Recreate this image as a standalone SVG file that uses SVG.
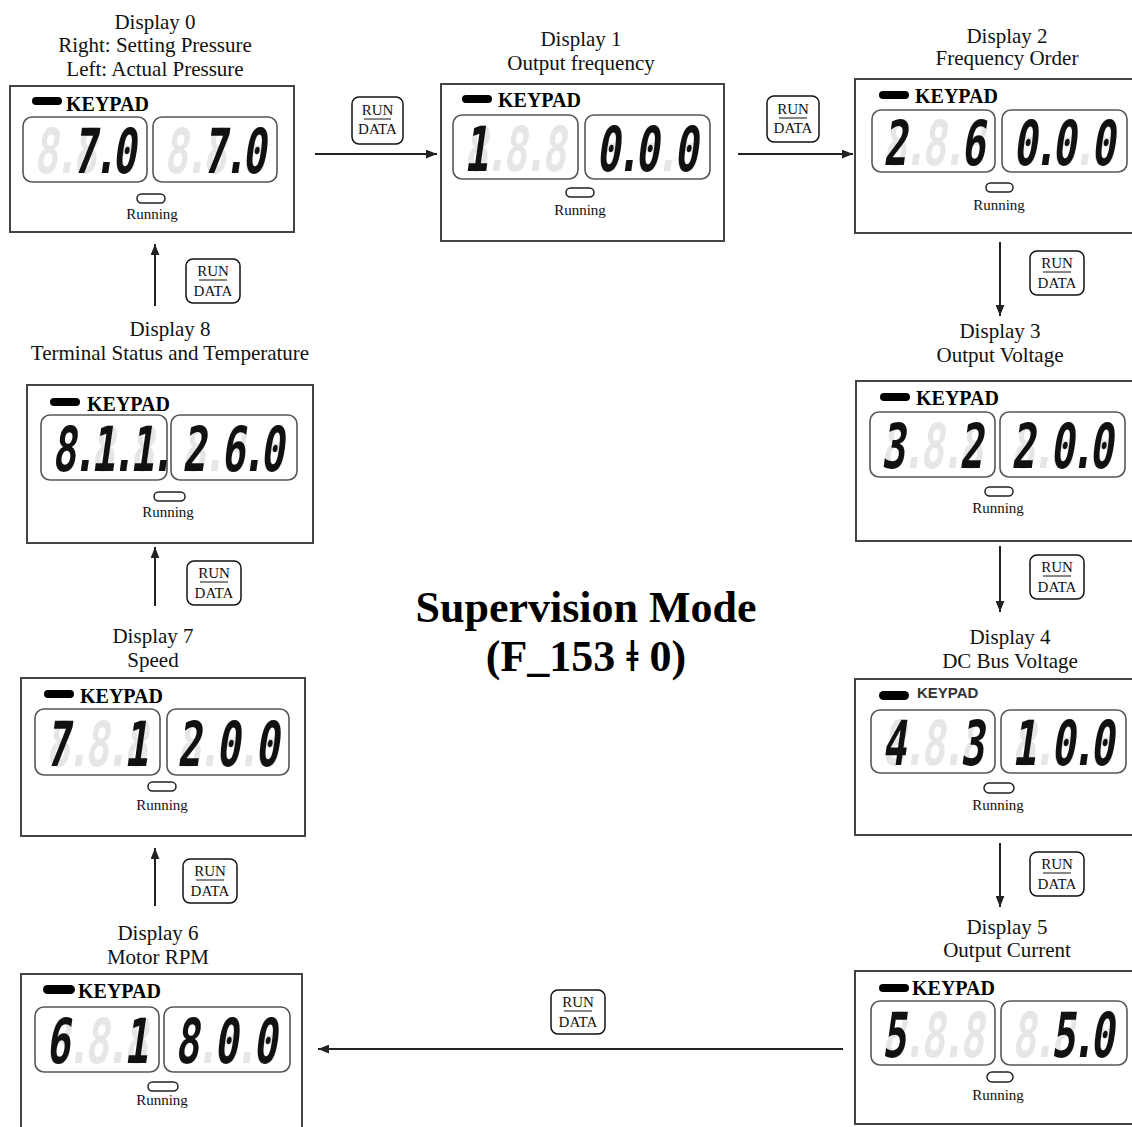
<svg xmlns="http://www.w3.org/2000/svg" width="1132" height="1127" viewBox="0 0 1132 1127">
<defs>
<style>
.lab{font-family:"Liberation Serif",serif;font-size:21px;text-anchor:middle;fill:#111}
.kp{font-family:"Liberation Serif",serif;font-weight:bold;font-size:20px;fill:#000}
.kps{font-family:"Liberation Sans",sans-serif;font-weight:bold;font-size:15px;fill:#333}
.run{font-family:"Liberation Serif",serif;font-size:15px;text-anchor:middle;fill:#111}
.box{fill:#fff;stroke:#444;stroke-width:2}
.win{fill:none;stroke:#555;stroke-width:1.6}
.pill{fill:#000}
.led{fill:#fff;stroke:#222;stroke-width:1.5}
.seg{font-family:"DejaVu Sans Mono",monospace;font-size:40px;font-weight:bold}
.gh{fill:#e6e6e6}
.lt{fill:#111}
.btn{fill:#fff;stroke:#111;stroke-width:1.5}
.bt{font-family:"Liberation Serif",serif;font-size:15px;text-anchor:middle;fill:#111}
.ul{stroke:#111;stroke-width:1}
.con{stroke:#222;stroke-width:2;fill:none;marker-end:url(#ah)}
.title{font-family:"Liberation Serif",serif;font-weight:bold;font-size:44px;text-anchor:middle;fill:#000}
</style>
<marker id="ah" viewBox="0 0 10 8" refX="10" refY="4" markerWidth="11" markerHeight="9" markerUnits="userSpaceOnUse" orient="auto">
<path d="M0,0 L10,4 L0,8 z" fill="#222"/>
</marker>
</defs>
<rect width="1132" height="1127" fill="#fff"/>

<g id="connectors">
<line class="con" x1="315" y1="154" x2="437" y2="154"/>
<line class="con" x1="738" y1="154" x2="853" y2="154"/>
<line class="con" x1="1000" y1="242" x2="1000" y2="316"/>
<line class="con" x1="1000" y1="546" x2="1000" y2="612"/>
<line class="con" x1="1000" y1="843" x2="1000" y2="907"/>
<line class="con" x1="843" y1="1049" x2="318" y2="1049"/>
<line class="con" x1="155" y1="906" x2="155" y2="848"/>
<line class="con" x1="155" y1="606" x2="155" y2="547"/>
<line class="con" x1="155" y1="306" x2="155" y2="244"/>
<g id="buttons">
<g><rect class="btn" x="352" y="97" width="51" height="47" rx="7"/><text class="bt" x="377.5" y="115">RUN</text><line class="ul" x1="364" y1="119" x2="391" y2="119"/><text class="bt" x="377.5" y="134">DATA</text></g>
<g><rect class="btn" x="767" y="96" width="52" height="46" rx="7"/><text class="bt" x="793" y="114">RUN</text><line class="ul" x1="779" y1="118" x2="807" y2="118"/><text class="bt" x="793" y="133">DATA</text></g>
<g><rect class="btn" x="186" y="259" width="54" height="44" rx="7"/><text class="bt" x="213" y="276">RUN</text><line class="ul" x1="199" y1="280" x2="227" y2="280"/><text class="bt" x="213" y="296">DATA</text></g>
<g><rect class="btn" x="1030" y="251" width="54" height="44" rx="7"/><text class="bt" x="1057" y="268">RUN</text><line class="ul" x1="1043" y1="272" x2="1071" y2="272"/><text class="bt" x="1057" y="288">DATA</text></g>
<g><rect class="btn" x="187" y="561" width="54" height="44" rx="7"/><text class="bt" x="214" y="578">RUN</text><line class="ul" x1="200" y1="582" x2="228" y2="582"/><text class="bt" x="214" y="598">DATA</text></g>
<g><rect class="btn" x="1030" y="555" width="54" height="44" rx="7"/><text class="bt" x="1057" y="572">RUN</text><line class="ul" x1="1043" y1="576" x2="1071" y2="576"/><text class="bt" x="1057" y="592">DATA</text></g>
<g><rect class="btn" x="183" y="859" width="54" height="44" rx="7"/><text class="bt" x="210" y="876">RUN</text><line class="ul" x1="196" y1="880" x2="224" y2="880"/><text class="bt" x="210" y="896">DATA</text></g>
<g><rect class="btn" x="1030" y="852" width="54" height="44" rx="7"/><text class="bt" x="1057" y="869">RUN</text><line class="ul" x1="1043" y1="873" x2="1071" y2="873"/><text class="bt" x="1057" y="889">DATA</text></g>
<g><rect class="btn" x="551" y="990" width="54" height="44" rx="7"/><text class="bt" x="578" y="1007">RUN</text><line class="ul" x1="564" y1="1011" x2="592" y2="1011"/><text class="bt" x="578" y="1027">DATA</text></g>
</g>
</g>

<g id="display0">
<text class="lab" x="155" y="29">Display 0</text>
<text class="lab" x="155" y="52">Right: Setting Pressure</text>
<text class="lab" x="155" y="76">Left: Actual Pressure</text>
<rect class="box" x="10" y="86" width="284" height="146"/>
<rect class="pill" x="32" y="97" width="30" height="8" rx="4"/>
<text class="kp" x="66" y="111">KEYPAD</text>
<rect class="win" x="23" y="117" width="124" height="65" rx="9"/>
<text class="seg gh" transform="translate(34,173) skewX(-8) scale(1,1.55)"><tspan x="0">8</tspan><tspan x="20">.</tspan><tspan x="39">8</tspan><tspan x="59">.</tspan><tspan x="78">8</tspan></text>
<text class="seg lt" transform="translate(34,173) skewX(-8) scale(1,1.55)"><tspan x="39">7</tspan><tspan x="59">.</tspan><tspan x="78">0</tspan></text>
<rect class="win" x="153" y="117" width="124" height="65" rx="9"/>
<text class="seg gh" transform="translate(164,173) skewX(-8) scale(1,1.55)"><tspan x="0">8</tspan><tspan x="20">.</tspan><tspan x="39">8</tspan><tspan x="59">.</tspan><tspan x="78">8</tspan></text>
<text class="seg lt" transform="translate(164,173) skewX(-8) scale(1,1.55)"><tspan x="39">7</tspan><tspan x="59">.</tspan><tspan x="78">0</tspan></text>
<rect class="led" x="137" y="194" width="28" height="9" rx="4.5"/>
<text class="run" x="152" y="219">Running</text>
</g>

<g id="display1">
<text class="lab" x="581" y="46">Display 1</text>
<text class="lab" x="581" y="70">Output frequency</text>
<rect class="box" x="441" y="84" width="283" height="157"/>
<rect class="pill" x="462" y="95" width="30" height="8" rx="4"/>
<text class="kp" x="498" y="107">KEYPAD</text>
<rect class="win" x="453" y="115" width="125" height="64" rx="9"/>
<text class="seg gh" transform="translate(464,171) skewX(-8) scale(1,1.55)"><tspan x="0">8</tspan><tspan x="20">.</tspan><tspan x="39">8</tspan><tspan x="59">.</tspan><tspan x="78">8</tspan></text>
<text class="seg lt" transform="translate(464,171) skewX(-8) scale(1,1.55)"><tspan x="0">1</tspan></text>
<rect class="win" x="585" y="115" width="125" height="64" rx="9"/>
<text class="seg gh" transform="translate(596,171) skewX(-8) scale(1,1.55)"><tspan x="0">8</tspan><tspan x="20">.</tspan><tspan x="39">8</tspan><tspan x="59">.</tspan><tspan x="78">8</tspan></text>
<text class="seg lt" transform="translate(596,171) skewX(-8) scale(1,1.55)"><tspan x="0">0</tspan><tspan x="20">.</tspan><tspan x="39">0</tspan><tspan x="78">0</tspan></text>
<rect class="led" x="566" y="188" width="28" height="9" rx="4.5"/>
<text class="run" x="580" y="215">Running</text>
</g>

<g id="display2">
<text class="lab" x="1007" y="43">Display 2</text>
<text class="lab" x="1007" y="65">Frequency Order</text>
<rect class="box" x="855" y="79" width="286" height="154"/>
<rect class="pill" x="879" y="91" width="30" height="8" rx="4"/>
<text class="kp" x="915" y="103">KEYPAD</text>
<rect class="win" x="872" y="110" width="123" height="62" rx="9"/>
<text class="seg gh" transform="translate(883,165) skewX(-8) scale(1,1.55)"><tspan x="0">8</tspan><tspan x="20">.</tspan><tspan x="39">8</tspan><tspan x="59">.</tspan><tspan x="78">8</tspan></text>
<text class="seg lt" transform="translate(883,165) skewX(-8) scale(1,1.55)"><tspan x="0">2</tspan><tspan x="78">6</tspan></text>
<rect class="win" x="1002" y="110" width="125" height="62" rx="9"/>
<text class="seg gh" transform="translate(1013,165) skewX(-8) scale(1,1.55)"><tspan x="0">8</tspan><tspan x="20">.</tspan><tspan x="39">8</tspan><tspan x="59">.</tspan><tspan x="78">8</tspan></text>
<text class="seg lt" transform="translate(1013,165) skewX(-8) scale(1,1.55)"><tspan x="0">0</tspan><tspan x="20">.</tspan><tspan x="39">0</tspan><tspan x="78">0</tspan></text>
<rect class="led" x="986" y="183" width="27" height="9" rx="4.5"/>
<text class="run" x="999" y="210">Running</text>
</g>

<g id="display3">
<text class="lab" x="1000" y="338">Display 3</text>
<text class="lab" x="1000" y="362">Output Voltage</text>
<rect class="box" x="856" y="381" width="285" height="160"/>
<rect class="pill" x="880" y="393" width="30" height="8" rx="4"/>
<text class="kp" x="916" y="405">KEYPAD</text>
<rect class="win" x="870" y="412" width="125" height="65" rx="9"/>
<text class="seg gh" transform="translate(881,468) skewX(-8) scale(1,1.55)"><tspan x="0">8</tspan><tspan x="20">.</tspan><tspan x="39">8</tspan><tspan x="59">.</tspan><tspan x="78">8</tspan></text>
<text class="seg lt" transform="translate(881,468) skewX(-8) scale(1,1.55)"><tspan x="0">3</tspan><tspan x="78">2</tspan></text>
<rect class="win" x="1000" y="412" width="125" height="65" rx="9"/>
<text class="seg gh" transform="translate(1011,468) skewX(-8) scale(1,1.55)"><tspan x="0">8</tspan><tspan x="20">.</tspan><tspan x="39">8</tspan><tspan x="59">.</tspan><tspan x="78">8</tspan></text>
<text class="seg lt" transform="translate(1011,468) skewX(-8) scale(1,1.55)"><tspan x="0">2</tspan><tspan x="39">0</tspan><tspan x="59">.</tspan><tspan x="78">0</tspan></text>
<rect class="led" x="985" y="487" width="28" height="9" rx="4.5"/>
<text class="run" x="998" y="513">Running</text>
</g>

<g id="display4">
<text class="lab" x="1010" y="644">Display 4</text>
<text class="lab" x="1010" y="668">DC Bus Voltage</text>
<rect class="box" x="855" y="679" width="286" height="156"/>
<rect class="pill" x="879" y="691" width="30" height="9" rx="4.5"/>
<text class="kps" x="917" y="698">KEYPAD</text>
<rect class="win" x="871" y="710" width="124" height="63" rx="9"/>
<text class="seg gh" transform="translate(882,765) skewX(-8) scale(1,1.55)"><tspan x="0">8</tspan><tspan x="20">.</tspan><tspan x="39">8</tspan><tspan x="59">.</tspan><tspan x="78">8</tspan></text>
<text class="seg lt" transform="translate(882,765) skewX(-8) scale(1,1.55)"><tspan x="0">4</tspan><tspan x="78">3</tspan></text>
<rect class="win" x="1001" y="710" width="125" height="63" rx="9"/>
<text class="seg gh" transform="translate(1012,765) skewX(-8) scale(1,1.55)"><tspan x="0">8</tspan><tspan x="20">.</tspan><tspan x="39">8</tspan><tspan x="59">.</tspan><tspan x="78">8</tspan></text>
<text class="seg lt" transform="translate(1012,765) skewX(-8) scale(1,1.55)"><tspan x="0">1</tspan><tspan x="39">0</tspan><tspan x="59">.</tspan><tspan x="78">0</tspan></text>
<rect class="led" x="984" y="783" width="30" height="10" rx="5"/>
<text class="run" x="998" y="810">Running</text>
</g>

<g id="display5">
<text class="lab" x="1007" y="934">Display 5</text>
<text class="lab" x="1007" y="957">Output Current</text>
<rect class="box" x="855" y="971" width="286" height="153"/>
<rect class="pill" x="879" y="984" width="30" height="8" rx="4"/>
<text class="kp" x="912" y="995">KEYPAD</text>
<rect class="win" x="871" y="1001" width="124" height="64" rx="9"/>
<text class="seg gh" transform="translate(882,1057) skewX(-8) scale(1,1.55)"><tspan x="0">8</tspan><tspan x="20">.</tspan><tspan x="39">8</tspan><tspan x="59">.</tspan><tspan x="78">8</tspan></text>
<text class="seg lt" transform="translate(882,1057) skewX(-8) scale(1,1.55)"><tspan x="0">5</tspan></text>
<rect class="win" x="1001" y="1001" width="126" height="64" rx="9"/>
<text class="seg gh" transform="translate(1012,1057) skewX(-8) scale(1,1.55)"><tspan x="0">8</tspan><tspan x="20">.</tspan><tspan x="39">8</tspan><tspan x="59">.</tspan><tspan x="78">8</tspan></text>
<text class="seg lt" transform="translate(1012,1057) skewX(-8) scale(1,1.55)"><tspan x="39">5</tspan><tspan x="59">.</tspan><tspan x="78">0</tspan></text>
<rect class="led" x="987" y="1072" width="26" height="10" rx="5"/>
<text class="run" x="998" y="1100">Running</text>
</g>

<g id="display6">
<text class="lab" x="158" y="940">Display 6</text>
<text class="lab" x="158" y="964">Motor RPM</text>
<rect class="box" x="21" y="974" width="281" height="162"/>
<rect class="pill" x="43" y="985" width="32" height="9" rx="4.5"/>
<text class="kp" x="78" y="998">KEYPAD</text>
<rect class="win" x="35" y="1007" width="124" height="65" rx="9"/>
<text class="seg gh" transform="translate(46,1063) skewX(-8) scale(1,1.55)"><tspan x="0">8</tspan><tspan x="20">.</tspan><tspan x="39">8</tspan><tspan x="59">.</tspan><tspan x="78">8</tspan></text>
<text class="seg lt" transform="translate(46,1063) skewX(-8) scale(1,1.55)"><tspan x="0">6</tspan><tspan x="78">1</tspan></text>
<rect class="win" x="164" y="1007" width="126" height="65" rx="9"/>
<text class="seg gh" transform="translate(175,1063) skewX(-8) scale(1,1.55)"><tspan x="0">8</tspan><tspan x="20">.</tspan><tspan x="39">8</tspan><tspan x="59">.</tspan><tspan x="78">8</tspan></text>
<text class="seg lt" transform="translate(175,1063) skewX(-8) scale(1,1.55)"><tspan x="0">8</tspan><tspan x="39">0</tspan><tspan x="78">0</tspan></text>
<rect class="led" x="148" y="1082" width="30" height="9" rx="4.5"/>
<text class="run" x="162" y="1105">Running</text>
</g>

<g id="display7">
<text class="lab" x="153" y="643">Display 7</text>
<text class="lab" x="153" y="667">Speed</text>
<rect class="box" x="21" y="678" width="284" height="158"/>
<rect class="pill" x="44" y="690" width="30" height="8" rx="4"/>
<text class="kp" x="80" y="703">KEYPAD</text>
<rect class="win" x="35" y="709" width="125" height="66" rx="9"/>
<text class="seg gh" transform="translate(46,766) skewX(-8) scale(1,1.55)"><tspan x="0">8</tspan><tspan x="20">.</tspan><tspan x="39">8</tspan><tspan x="59">.</tspan><tspan x="78">8</tspan></text>
<text class="seg lt" transform="translate(46,766) skewX(-8) scale(1,1.55)"><tspan x="0">7</tspan><tspan x="78">1</tspan></text>
<rect class="win" x="167" y="709" width="122" height="66" rx="9"/>
<text class="seg gh" transform="translate(177,766) skewX(-8) scale(1,1.55)"><tspan x="0">8</tspan><tspan x="20">.</tspan><tspan x="39">8</tspan><tspan x="59">.</tspan><tspan x="78">8</tspan></text>
<text class="seg lt" transform="translate(177,766) skewX(-8) scale(1,1.55)"><tspan x="0">2</tspan><tspan x="39">0</tspan><tspan x="78">0</tspan></text>
<rect class="led" x="148" y="782" width="28" height="9" rx="4.5"/>
<text class="run" x="162" y="810">Running</text>
</g>

<g id="display8">
<text class="lab" x="170" y="336">Display 8</text>
<text class="lab" x="170" y="360">Terminal Status and Temperature</text>
<rect class="box" x="27" y="385" width="286" height="158"/>
<rect class="pill" x="50" y="398" width="30" height="8" rx="4"/>
<text class="kp" x="87" y="411">KEYPAD</text>
<rect class="win" x="41" y="415" width="126" height="65" rx="9"/>
<text class="seg gh" transform="translate(52,471) skewX(-8) scale(1,1.55)"><tspan x="0">8</tspan><tspan x="20">.</tspan><tspan x="39">8</tspan><tspan x="59">.</tspan><tspan x="78">8</tspan></text>
<text class="seg lt" transform="translate(52,471) skewX(-8) scale(1,1.55)"><tspan x="0">8</tspan><tspan x="20">.</tspan><tspan x="39">1</tspan><tspan x="59">.</tspan><tspan x="78">1</tspan><tspan x="98">.</tspan></text>
<rect class="win" x="171" y="415" width="126" height="65" rx="9"/>
<text class="seg gh" transform="translate(182,471) skewX(-8) scale(1,1.55)"><tspan x="0">8</tspan><tspan x="20">.</tspan><tspan x="39">8</tspan><tspan x="59">.</tspan><tspan x="78">8</tspan></text>
<text class="seg lt" transform="translate(182,471) skewX(-8) scale(1,1.55)"><tspan x="0">2</tspan><tspan x="39">6</tspan><tspan x="59">.</tspan><tspan x="78">0</tspan></text>
<rect class="led" x="154" y="492" width="31" height="9" rx="4.5"/>
<text class="run" x="168" y="517">Running</text>
</g>

<g id="title">
<text class="title" x="586" y="622">Supervision Mode</text>
<text class="title" x="586" y="671">(F_153 ǂ 0)</text>
</g>
</svg>
